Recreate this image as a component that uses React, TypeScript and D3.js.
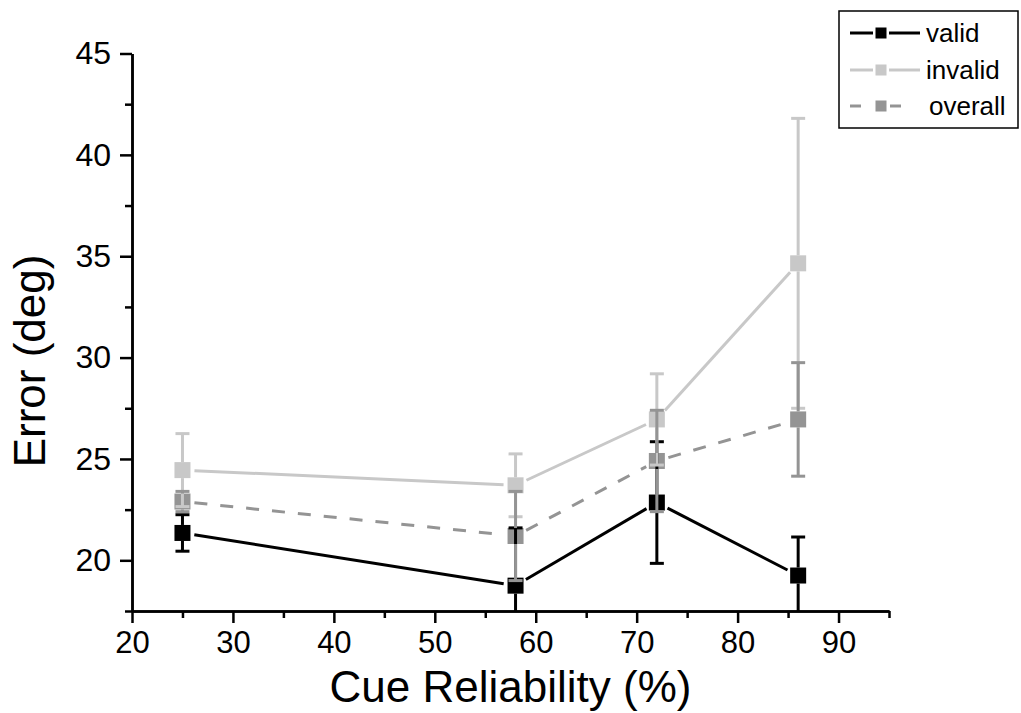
import React, { useEffect, useRef } from 'react';
import * as d3 from 'd3';

// cue reliability (%) on the x axis
const cueLevels = [25, 58, 72, 86];

const validMean = [21.35, 18.75, 22.85, 19.25];
const validErr = [0.9, 2.85, 3.0, 1.9];

const invalidMean = [24.45, 23.7, 26.95, 34.65];
const invalidErr = [1.8, 1.55, 2.25, 7.15];

const overallMean = [22.9, 21.2, 24.9, 26.95];
const overallErr = [0.5, 2.2, 2.5, 2.8];

const xMajorTicks = [20, 30, 40, 50, 60, 70, 80, 90];
const xMinorTicks = [25, 35, 45, 55, 65, 75, 85, 95];
const yMajorTicks = [20, 25, 30, 35, 40, 45];
const yMinorTicks = [17.5, 22.5, 27.5, 32.5, 37.5, 42.5];

const seriesNames = ['valid', 'invalid', 'overall'];

const App = () => {
  const ref = useRef<SVGSVGElement>(null);

  useEffect(() => {
    const svg = d3.select(ref.current);
    svg.selectAll('*').remove();

    const font = '"Liberation Sans", Arial, sans-serif';
    const left = 132, right = 889, top = 53.5, bottom = 611;

    const x = d3.scaleLinear().domain([20, 95]).range([left, right]);
    const y = d3.scaleLinear().domain([17.5, 45]).range([bottom, top]);

    const series = [
      { name: seriesNames[0], mean: validMean, err: validErr, color: '#000000', dash: null },
      { name: seriesNames[1], mean: invalidMean, err: invalidErr, color: '#c8c8c8', dash: null },
      { name: seriesNames[2], mean: overallMean, err: overallErr, color: '#949494', dash: '13,13' },
    ];

    svg.append('defs').append('clipPath').attr('id', 'plotClip')
      .append('rect')
      .attr('x', left).attr('y', 0)
      .attr('width', right - left + 20).attr('height', bottom);

    const plot = svg.append('g').attr('clip-path', 'url(#plotClip)');

    const half = 8; // marker half-size
    const gap = 12; // line gap around markers

    // lines with gaps at the symbols
    series.forEach(s => {
      const pts = cueLevels.map((c, i) => [x(c), y(s.mean[i])]);
      for (let i = 0; i < pts.length - 1; i++) {
        const [x1, y1] = pts[i];
        const [x2, y2] = pts[i + 1];
        const len = Math.hypot(x2 - x1, y2 - y1);
        const ux = (x2 - x1) / len, uy = (y2 - y1) / len;
        plot.append('line')
          .attr('x1', x1 + ux * gap).attr('y1', y1 + uy * gap)
          .attr('x2', x2 - ux * gap).attr('y2', y2 - uy * gap)
          .attr('stroke', s.color)
          .attr('stroke-width', 3)
          .attr('stroke-dasharray', s.dash)
          .attr('fill', 'none');
      }
    });

    // markers
    series.forEach(s => {
      plot.selectAll(null)
        .data(cueLevels)
        .enter()
        .append('rect')
        .attr('x', (d) => x(d) - half)
        .attr('y', (d, i) => y(s.mean[i]) - half)
        .attr('width', half * 2)
        .attr('height', half * 2)
        .attr('fill', s.color);
    });

    // error bars, starting at the symbol edge
    series.forEach(s => {
      cueLevels.forEach((c, i) => {
        const cx = x(c);
        const cy = y(s.mean[i]);
        const yt = y(s.mean[i] + s.err[i]);
        const yb = y(s.mean[i] - s.err[i]);
        const g = plot.append('g').attr('stroke', s.color).attr('stroke-width', 3);
        g.append('line').attr('x1', cx).attr('x2', cx).attr('y1', cy - half).attr('y2', yt);
        g.append('line').attr('x1', cx).attr('x2', cx).attr('y1', cy + half).attr('y2', yb);
        g.append('line').attr('x1', cx - 7).attr('x2', cx + 7).attr('y1', yt).attr('y2', yt);
        g.append('line').attr('x1', cx - 7).attr('x2', cx + 7).attr('y1', yb).attr('y2', yb);
      });
    });

    // x axis
    const xAxis = svg.append('g').attr('transform', `translate(0,${bottom})`);
    xAxis.call(d3.axisBottom(x).tickValues(xMajorTicks).tickSize(12).tickSizeOuter(0).tickPadding(8));
    xAxis.append('g').call(d3.axisBottom(x).tickValues(xMinorTicks).tickSize(7).tickSizeOuter(0).tickFormat(() => ''));
    xAxis.selectAll('.domain').attr('stroke', '#000').attr('stroke-width', 2.5);
    xAxis.selectAll('line').attr('stroke', '#000').attr('stroke-width', 2.5);
    xAxis.selectAll('text')
      .attr('font-family', font).attr('font-size', 31).attr('fill', '#000');

    // y axis
    const yAxis = svg.append('g').attr('transform', `translate(${left},0)`);
    yAxis.call(d3.axisLeft(y).tickValues(yMajorTicks).tickSize(12).tickSizeOuter(0).tickPadding(9));
    yAxis.append('g').call(d3.axisLeft(y).tickValues(yMinorTicks).tickSize(7).tickSizeOuter(0).tickFormat(() => ''));
    yAxis.selectAll('.domain').attr('stroke', '#000').attr('stroke-width', 2.5);
    yAxis.selectAll('line').attr('stroke', '#000').attr('stroke-width', 2.5);
    yAxis.selectAll('text')
      .attr('font-family', font).attr('font-size', 32).attr('fill', '#000');

    // axis titles
    svg.append('text')
      .attr('x', (left + right) / 2)
      .attr('y', 702)
      .attr('text-anchor', 'middle')
      .attr('font-family', font)
      .attr('font-size', 44)
      .text('Cue Reliability (%)');

    svg.append('text')
      .attr('transform', 'translate(45,361) rotate(-90)')
      .attr('text-anchor', 'middle')
      .attr('font-family', font)
      .attr('font-size', 44)
      .text('Error (deg)');

    // legend
    const legend = svg.append('g');
    legend.append('rect')
      .attr('x', 839).attr('y', 11)
      .attr('width', 179).attr('height', 117)
      .attr('fill', '#fff').attr('stroke', '#000').attr('stroke-width', 1.5);

    const rowY = [33, 70, 106];
    series.forEach((s, i) => {
      const cy = rowY[i];
      const row = legend.append('g').attr('stroke', s.color).attr('stroke-width', 3);
      if (s.dash) {
        row.append('line').attr('x1', 850).attr('x2', 861).attr('y1', cy).attr('y2', cy);
        row.append('line').attr('x1', 890).attr('x2', 901).attr('y1', cy).attr('y2', cy);
      } else {
        row.append('line').attr('x1', 850).attr('x2', 873).attr('y1', cy).attr('y2', cy);
        row.append('line').attr('x1', 889).attr('x2', 920).attr('y1', cy).attr('y2', cy);
      }
      legend.append('rect')
        .attr('x', 875.5).attr('y', cy - 5.5)
        .attr('width', 11).attr('height', 11)
        .attr('fill', s.color);
      legend.append('text')
        .attr('x', s.dash ? 929 : 926)
        .attr('y', cy + 9)
        .attr('font-family', font)
        .attr('font-size', 26)
        .attr('fill', '#000')
        .text(s.name);
    });
  }, []);

  return (
    <svg
      ref={ref}
      width={1021}
      height={713}
      style={{ position: 'absolute', left: 0, top: 0, background: '#fff' }}
    />
  );
};

export default App;
